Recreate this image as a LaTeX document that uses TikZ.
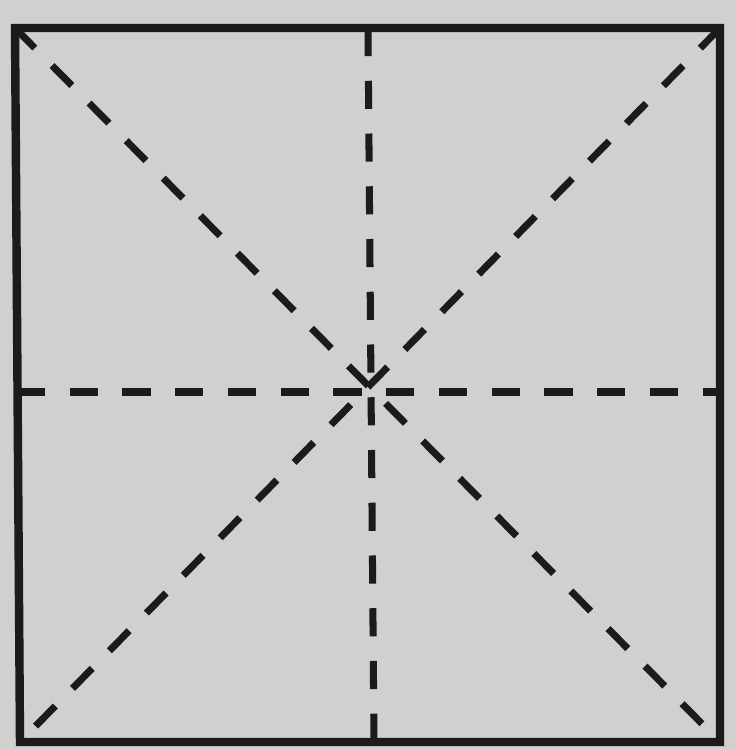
\documentclass[tikz,border=0pt]{standalone}
\definecolor{papergray}{RGB}{208,208,206}
\definecolor{inkblack}{RGB}{28,26,26}
\tikzset{
  edge/.style={line width=2.4pt, draw=inkblack},
  fold/.style={line width=2pt, draw=inkblack, dash pattern=on 8pt off 7pt}
}
\begin{document}
\begin{tikzpicture}[x=0.01cm, y=-0.01cm]

    % 0. 背景（灰色纸面），固定图片大小
    \fill[papergray] (0, 0) rectangle (735, 750);
    \useasboundingbox (0, 0) rectangle (735, 750);

    % 1. 正方形的四个顶点与各边中点
    \coordinate (A) at (15, 28);
    \coordinate (B) at (720, 28);
    \coordinate (C) at (720, 742);
    \coordinate (D) at (20, 742);
    \coordinate (T) at (368, 28);
    \coordinate (R) at (720, 392);
    \coordinate (U) at (374, 742);
    \coordinate (L) at (17, 392);

    % 2. 折痕：两条对角线和两条中线（虚线）
    \draw[fold] (A) -- (C);
    \draw[fold] (B) -- (D);
    \draw[fold] (T) -- (U);
    \draw[fold] (L) -- (R);

    % 3. 正方形外框（实线）
    \draw[edge] (A) -- (B) -- (C) -- (D) -- cycle;

\end{tikzpicture}
\end{document}
